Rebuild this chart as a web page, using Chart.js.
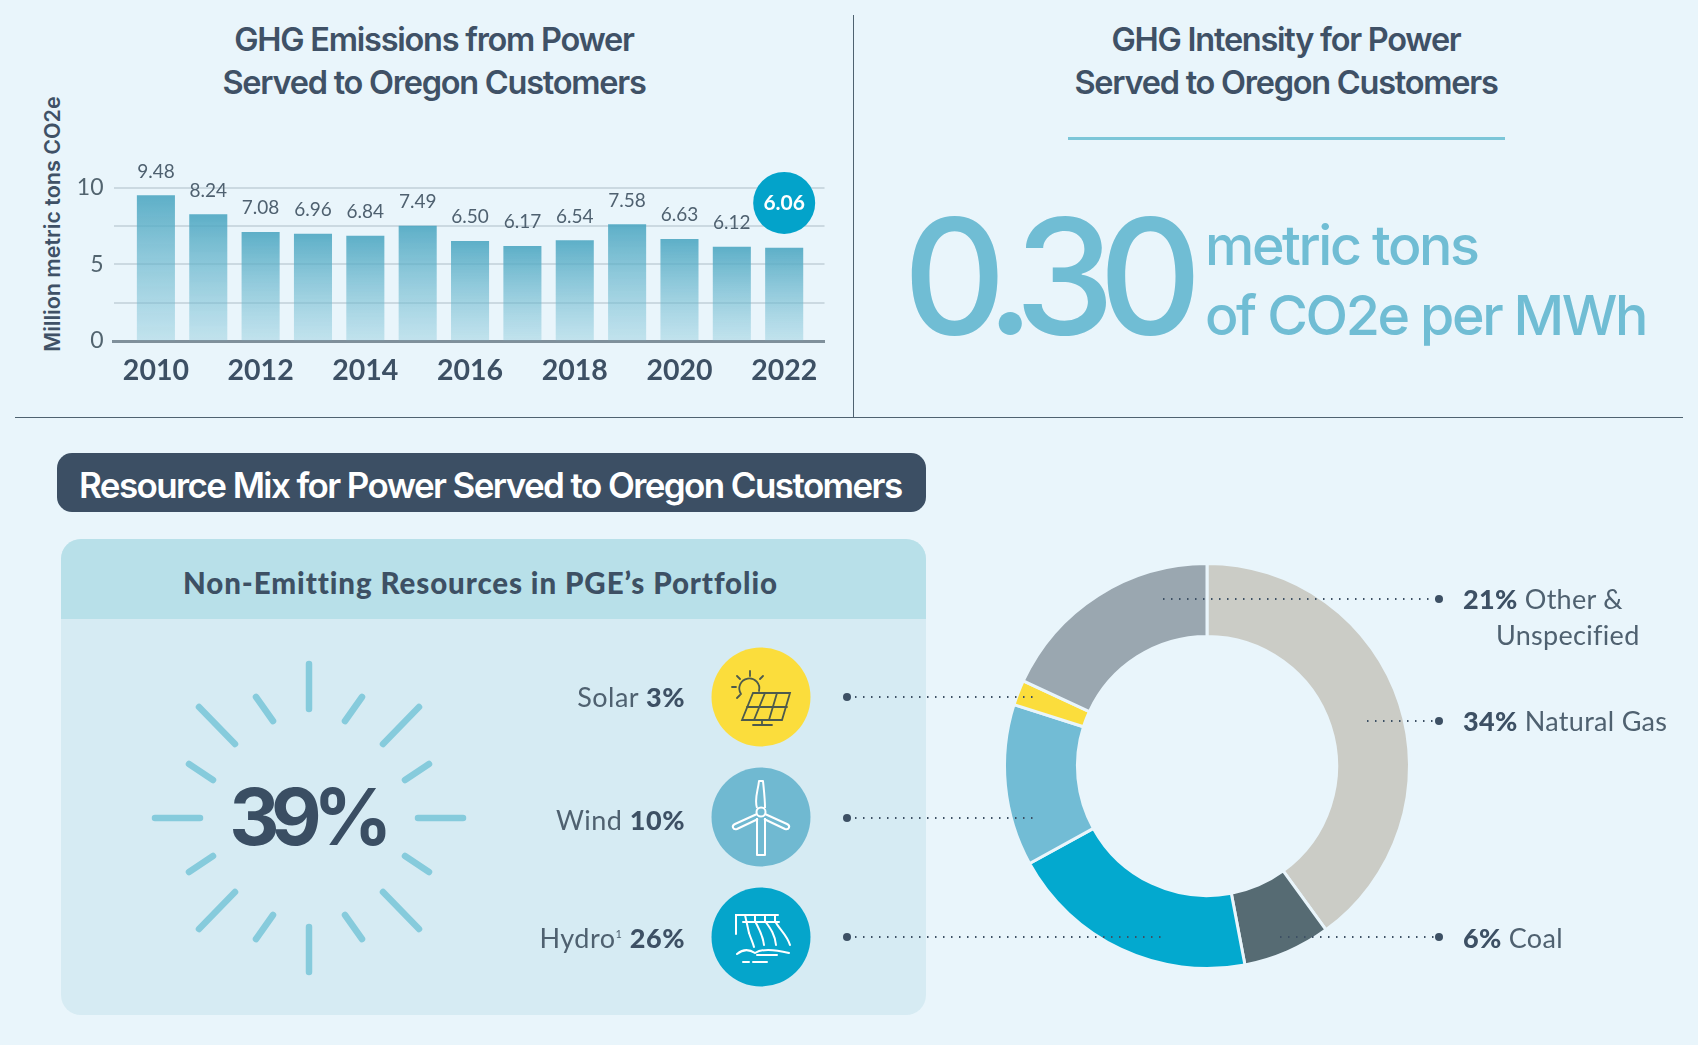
<!DOCTYPE html>
<html>
<head>
<meta charset="utf-8">
<script src="https://cdn.jsdelivr.net/npm/chart.js@4/dist/chart.umd.min.js"></script>
<style>
    html, body { margin: 0; padding: 0; background: #e9f5fb; }
    #page { position: relative; width: 1698px; height: 1045px; overflow: hidden; background: #e9f5fb; color: #3d5064; font-family: Inter, sans-serif; }
    #page > * { position: absolute; }
    .title { font-weight: 600; font-size: 32.5px; line-height: 43px; letter-spacing: -1.25px; text-align: center; width: 700px; color: #3f5166; }
    .rule { background: #4f6270; }
    .big { color: #70bdd4; font-weight: 500; white-space: nowrap; }
    .mix { font-family: Lato, sans-serif; font-size: 27px; line-height: 30px; letter-spacing: 0.3px; color: #4f6170; white-space: nowrap; }
    .mix b { color: #3d5064; font-weight: 900; }
    .mix sup { font-size: 11px; line-height: 0; }
    .right { text-align: right; width: 240px; left: 445px; letter-spacing: 0.5px; }
</style>
</head>
<body>
<div id="page">
    <div class="title" style="left:84px;top:18px">GHG Emissions from Power<br>Served to Oregon Customers</div>
    <div class="title" style="left:936px;top:18px">GHG Intensity for Power<br>Served to Oregon Customers</div>
    <div style="left:1068px;top:137px;width:437px;height:3px;background:#7cc6d8"></div>
    <div class="rule" style="left:853px;top:15px;width:1px;height:402px"></div>
    <div class="rule" style="left:15px;top:417px;width:1668px;height:1px"></div>

    <div style="left:29px;top:224px;width:300px;height:26px;margin-left:-127px;margin-top:-13px;transform:rotate(-90deg);font-weight:600;font-size:21.5px;line-height:26px;text-align:center;color:#3f5166;white-space:nowrap">Million metric tons CO2e</div>
    <canvas id="barChart" width="850" height="410" style="left:0;top:0"></canvas>

    <div class="big" style="left:903px;top:181px;font-size:160px;line-height:190px;letter-spacing:-16px">0.30</div>
    <div class="big" style="left:1205px;top:210px;font-size:55.5px;line-height:70px;letter-spacing:-2.4px">metric tons<br>of CO2e per MWh</div>

    <div style="left:57px;top:453px;width:869px;height:59px;border-radius:15px;background:#3c4f64;color:#fff;font-weight:600;font-size:35px;line-height:65px;letter-spacing:-1.6px;text-indent:22px;white-space:nowrap">Resource Mix for Power Served to Oregon Customers</div>

    <div style="left:61px;top:539px;width:865px;height:476px;border-radius:20px;background:#d6ebf3"></div>
    <div style="left:61px;top:539px;width:865px;height:80px;border-radius:20px 20px 0 0;background:#b8e0e9"></div>
    <div style="left:61px;top:563px;width:839px;font-family:Lato,sans-serif;font-weight:900;font-size:29.5px;line-height:40px;letter-spacing:0.9px;text-align:center;color:#3d5064;white-space:nowrap">Non-Emitting Resources in PGE’s Portfolio</div>

    <svg width="1698" height="1045" style="left:0;top:0">
        <g transform="translate(309 818)" stroke="#86cbdc" stroke-width="6.5" stroke-linecap="round" fill="none">
            <path d="M0 -154V-109M0 154V109M-154 0H-109M154 0H109"/>
            <path d="M-110 -111L-74 -74M110 -111L74 -74M-110 111L-74 74M110 111L74 74"/>
            <path d="M-53 -121L-36 -97M53 -121L36 -97M-53 121L-36 97M53 121L36 97"/>
            <path d="M-120 -54L-96 -38M120 -54L96 -38M-120 54L-96 38M120 54L96 38"/>
        </g>

        <!-- solar -->
        <circle cx="761" cy="697" r="49.5" fill="#fbdd3c"/>
        <g transform="translate(761 697)" stroke="#4d5a4c" stroke-width="1.8" fill="none" stroke-linecap="round">
            <path d="M-20 -3A10 10 0 1 1 -2 -6"/>
            <path d="M-11 -26V-21M-24 -21L-21 -18M2 -21L-1 -18M-29 -10H-25M-24 1L-21 -2"/>
            <path d="M-8 -4H29L21 23H-19Z"/>
            <path d="M-14 10H26M4 -4L-7 23M16 -4L8 23"/>
            <path d="M1 23V28M-8 28H11"/>
        </g>

        <!-- wind -->
        <circle cx="761" cy="817" r="49.5" fill="#70b9d1"/>
        <g transform="translate(761 817)" stroke="#fff" stroke-width="2" fill="none" stroke-linejoin="round">
            <path d="M-4 1L-4 38H4L4 1"/>
            <circle cx="0" cy="-5" r="4.5"/>
            <path d="M-4 -9C-7 -18 -3 -26 -2 -36H2C3 -26 4 -18 4 -9"/>
            <path d="M-4 -3L-26 7C-30 9 -28 13 -24 12L-3 2"/>
            <path d="M4 -3L26 7C30 9 28 13 24 12L3 2"/>
        </g>

        <!-- hydro -->
        <circle cx="761" cy="937" r="49.5" fill="#05a5cb"/>
        <g transform="translate(761 937)" stroke="#fff" stroke-width="2" fill="none" stroke-linecap="round">
            <path d="M-25 -3V-22H17"/>
            <path d="M-16 -22L-12 -4M-6 -22V-16C-2 -8 2 -2 3 8M4 -22V-16C10 -8 14 -2 15 8M14 -22V-16C18 -8 26 -2 29 8"/>
            <path d="M-18 -15H18M-12 -4C-10 2 -8 6 -7 10"/>
            <path d="M-24 17C-18 12 -12 12 -6 16C0 12 12 12 28 16M-18 25H-12M-8 25H6M-4 18H16"/>
        </g>
    </svg>

    <div style="left:61px;top:767px;width:491px;font-weight:700;font-size:78px;line-height:100px;letter-spacing:-8.5px;text-align:center;color:#3a4e63">39%</div>

    <div class="mix right" style="top:682px">Solar <b>3%</b></div>
    <div class="mix right" style="top:805px">Wind <b>10%</b></div>
    <div class="mix right" style="top:923px">Hydro<sup>1</sup> <b>26%</b></div>

    <canvas id="mixChart" width="420" height="420" style="left:997px;top:556px"></canvas>

    <svg width="1698" height="1045" style="left:0;top:0;pointer-events:none">
        <g stroke="#3d5064" stroke-width="2" stroke-dasharray="1.5 6.5" fill="none">
            <path d="M847 697H1033M847 818H1039M847 937H1165M1163 599H1439M1367 721H1439M1280 937H1439"/>
        </g>
        <g fill="#3d5064">
            <circle cx="847" cy="697" r="4"/>
            <circle cx="847" cy="818" r="4"/>
            <circle cx="847" cy="937" r="4"/>
            <circle cx="1439" cy="599" r="4"/>
            <circle cx="1439" cy="721" r="4"/>
            <circle cx="1439" cy="937" r="4"/>
        </g>
    </svg>

    <div class="mix" style="left:1463px;top:584px"><b>21%</b> Other &amp;</div>
    <div class="mix" style="left:1496px;top:620px">Unspecified</div>
    <div class="mix" style="left:1463px;top:706px"><b>34%</b> Natural Gas</div>
    <div class="mix" style="left:1463px;top:923px"><b>6%</b> Coal</div>
</div>

<script>
    const years = [2010, 2011, 2012, 2013, 2014, 2015, 2016, 2017, 2018, 2019, 2020, 2021, 2022];
    const emissions = [9.48, 8.24, 7.08, 6.96, 6.84, 7.49, 6.50, 6.17, 6.54, 7.58, 6.63, 6.12, 6.06];
    const yearTicks = [2010, 2012, 2014, 2016, 2018, 2020, 2022];
    const yTickLabels = [0, 5, 10];

    // Shares as the slices are drawn in the picture, which differ from the printed percentages
    const mixNames = ['Natural Gas', 'Coal', 'Hydro', 'Wind', 'Solar', 'Other & Unspecified'];
    const mixShares = [40, 7, 20, 12.9, 2, 18.1];
    const mixColors = ['#cbccc6', '#566b73', '#03a9cf', '#72bcd5', '#fbdd3c', '#9aa7b0'];

    const barLabels = {
        id: 'barLabels',
        afterDatasetsDraw(chart)
        {
            const ctx = chart.ctx;
            const bars = chart.getDatasetMeta(0).data;

            ctx.save();
            ctx.textAlign = 'center';
            ctx.textBaseline = 'middle';

            bars.forEach((bar, i) =>
            {
                let text = emissions[i].toFixed(2);

                if (i === bars.length - 1)
                {
                    ctx.fillStyle = '#03a3ca';
                    ctx.beginPath();
                    ctx.arc(bar.x, bar.y - 45, 31, 0, Math.PI * 2);
                    ctx.fill();
                    ctx.fillStyle = '#fff';
                    ctx.font = '700 21px Lato';
                    ctx.fillText(text, bar.x, bar.y - 45);
                }
                else
                {
                    ctx.fillStyle = '#4f6170';
                    ctx.font = '400 19px Lato';
                    ctx.fillText(text, bar.x, bar.y - 24);
                }
            });

            ctx.restore();
        }
    };

    new Chart(document.getElementById('barChart'), {
        type: 'bar',
        data: {
            labels: years,
            datasets: [{
                data: emissions,
                barThickness: 37.4,
                backgroundColor(context)
                {
                    const y = context.chart.scales.y;
                    if (!y || !context.parsed) return '#6ab5cb';
                    const top = y.getPixelForValue(context.parsed.y);
                    const bottom = y.getPixelForValue(0);
                    if (!isFinite(top) || !isFinite(bottom)) return '#6ab5cb';
                    const fill = context.chart.ctx.createLinearGradient(0, top, 0, bottom);
                    fill.addColorStop(0, 'rgba(74, 165, 192, 0.88)');
                    fill.addColorStop(1, 'rgba(120, 192, 212, 0.35)');
                    return fill;
                }
            }]
        },
        options: {
            responsive: false,
            animation: false,
            events: [],
            layout: { padding: { top: 187.5, right: 25.5, bottom: 0, left: 0 } },
            plugins: { legend: { display: false }, tooltip: { enabled: false } },
            scales: {
                x: {
                    type: 'linear',
                    offset: false,
                    min: 2009.19,
                    max: 2022.77,
                    afterBuildTicks(scale) { scale.ticks = yearTicks.map(value => ({ value })); },
                    afterFit(scale) { scale.height = 69; },
                    grid: { display: false, drawTicks: false },
                    border: { color: '#7f909b', width: 3 },
                    ticks: {
                        autoSkip: false,
                        maxRotation: 0,
                        padding: 13,
                        color: '#3d5064',
                        font: { family: 'Lato', weight: '700', size: 28.5 },
                        callback: value => String(value)
                    }
                },
                y: {
                    min: 0,
                    max: 10,
                    afterFit(scale) { scale.width = 113.5; },
                    grid: { color: 'rgba(120, 140, 150, 0.26)', lineWidth: 2, drawTicks: false },
                    border: { display: false },
                    ticks: {
                        stepSize: 2.5,
                        padding: 10,
                        color: '#52646f',
                        font: { family: 'Lato', size: 23 },
                        callback: value => yTickLabels.includes(value) ? String(value) : ''
                    }
                }
            }
        },
        plugins: [barLabels]
    });

    new Chart(document.getElementById('mixChart'), {
        type: 'doughnut',
        data: {
            labels: mixNames,
            datasets: [{
                data: mixShares,
                backgroundColor: mixColors,
                borderColor: '#e9f5fb',
                borderWidth: 3,
                hoverOffset: 0
            }]
        },
        options: {
            responsive: false,
            animation: false,
            events: [],
            cutout: '64%',
            layout: { padding: 6 },
            plugins: { legend: { display: false }, tooltip: { enabled: false } }
        }
    });
</script>
</body>
</html>
